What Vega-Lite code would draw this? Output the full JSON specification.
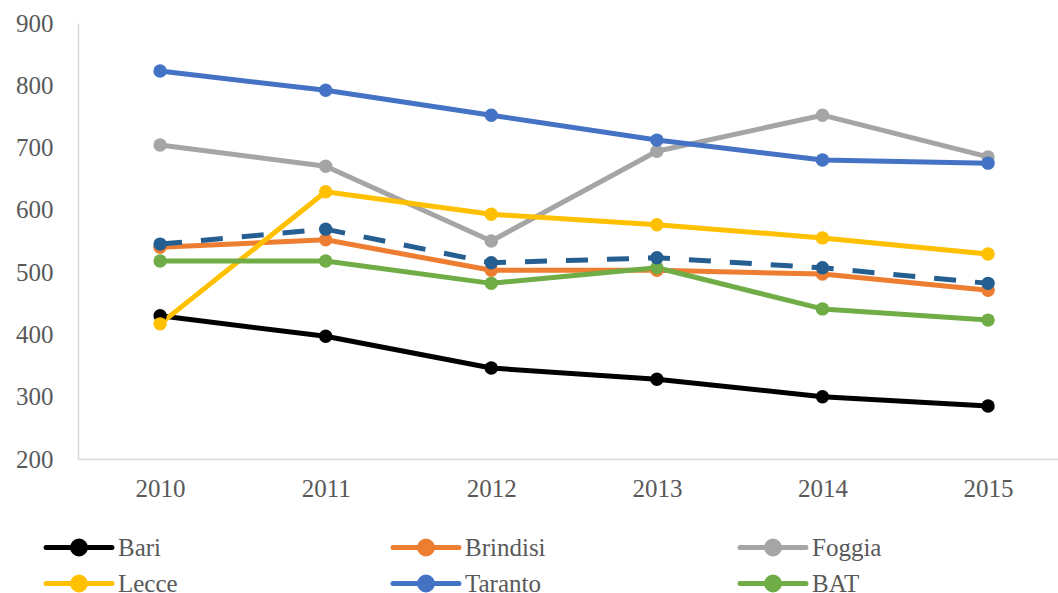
{
  "$schema": "https://vega.github.io/schema/vega-lite/v6.json",
  "width": 980,
  "height": 436,
  "autosize": {"type": "none"},
  "padding": {"left": 78, "top": 23, "right": 0, "bottom": 134},
  "background": "white",
  "config": {
    "view": {"stroke": null},
    "font": "Liberation Serif",
    "legend": {
      "orient": "none",
      "legendX": -18.5,
      "legendY": 505,
      "direction": "horizontal",
      "columns": 3,
      "gridAlign": "all",
      "columnPadding": 183,
      "rowPadding": -2,
      "symbolType": "M-1.94,0H1.94M0.38,0A0.38,0.38,0,1,1,-0.38,0A0.38,0.38,0,1,1,0.38,0Z",
      "symbolSize": 1156,
      "symbolStrokeWidth": 5,
      "labelFont": "Liberation Serif",
      "labelFontSize": 25,
      "labelColor": "#595959",
      "labelOffset": 19.5,
      "padding": 0
    }
  },
  "data": {
    "values": [
      {"year": "2010", "series": "Bari", "value": 430},
      {"year": "2011", "series": "Bari", "value": 397},
      {"year": "2012", "series": "Bari", "value": 346},
      {"year": "2013", "series": "Bari", "value": 328},
      {"year": "2014", "series": "Bari", "value": 300},
      {"year": "2015", "series": "Bari", "value": 285},
      {"year": "2010", "series": "Brindisi", "value": 540},
      {"year": "2011", "series": "Brindisi", "value": 552},
      {"year": "2012", "series": "Brindisi", "value": 503},
      {"year": "2013", "series": "Brindisi", "value": 503},
      {"year": "2014", "series": "Brindisi", "value": 497},
      {"year": "2015", "series": "Brindisi", "value": 471},
      {"year": "2010", "series": "Foggia", "value": 704},
      {"year": "2011", "series": "Foggia", "value": 670},
      {"year": "2012", "series": "Foggia", "value": 550},
      {"year": "2013", "series": "Foggia", "value": 694},
      {"year": "2014", "series": "Foggia", "value": 752},
      {"year": "2015", "series": "Foggia", "value": 685},
      {"year": "2010", "series": "Lecce", "value": 417},
      {"year": "2011", "series": "Lecce", "value": 629},
      {"year": "2012", "series": "Lecce", "value": 593},
      {"year": "2013", "series": "Lecce", "value": 576},
      {"year": "2014", "series": "Lecce", "value": 555},
      {"year": "2015", "series": "Lecce", "value": 529},
      {"year": "2010", "series": "Taranto", "value": 823},
      {"year": "2011", "series": "Taranto", "value": 792},
      {"year": "2012", "series": "Taranto", "value": 752},
      {"year": "2013", "series": "Taranto", "value": 712},
      {"year": "2014", "series": "Taranto", "value": 680},
      {"year": "2015", "series": "Taranto", "value": 675},
      {"year": "2010", "series": "BAT", "value": 518},
      {"year": "2011", "series": "BAT", "value": 518},
      {"year": "2012", "series": "BAT", "value": 482},
      {"year": "2013", "series": "BAT", "value": 507},
      {"year": "2014", "series": "BAT", "value": 441},
      {"year": "2015", "series": "BAT", "value": 423},
      {"year": "2010", "series": "Puglia", "value": 545},
      {"year": "2011", "series": "Puglia", "value": 569},
      {"year": "2012", "series": "Puglia", "value": 515},
      {"year": "2013", "series": "Puglia", "value": 523},
      {"year": "2014", "series": "Puglia", "value": 507},
      {"year": "2015", "series": "Puglia", "value": 482}
    ]
  },
  "encoding": {
    "x": {
      "field": "year",
      "type": "ordinal",
      "scale": {"type": "point", "padding": 0.459, "align": 0.54},
      "axis": {
        "title": null,
        "labelAngle": 0,
        "ticks": false,
        "grid": false,
        "domainColor": "#D9D9D9",
        "domainWidth": 1.5,
        "labelFont": "Liberation Serif",
        "labelFontSize": 25,
        "labelColor": "#595959",
        "labelPadding": 17
      }
    },
    "y": {
      "field": "value",
      "type": "quantitative",
      "scale": {"domain": [200, 900], "nice": false, "zero": false},
      "axis": {
        "title": null,
        "values": [200, 300, 400, 500, 600, 700, 800, 900],
        "ticks": false,
        "grid": false,
        "domainColor": "#D9D9D9",
        "domainWidth": 1.5,
        "labelFont": "Liberation Serif",
        "labelFontSize": 25,
        "labelColor": "#595959",
        "labelPadding": 25
      }
    }
  },
  "layer": [
    {
      "transform": [{"filter": "datum.series !== 'Puglia'"}],
      "mark": {"type": "line", "strokeWidth": 5, "strokeCap": "round", "strokeJoin": "round"},
      "encoding": {
        "color": {
          "field": "series",
          "type": "nominal",
          "scale": {
            "domain": ["Bari", "Brindisi", "Foggia", "Lecce", "Taranto", "BAT"],
            "range": ["#000000", "#ED7D31", "#A5A5A5", "#FFC000", "#4472C4", "#70AD47"]
          },
          "legend": {
            "title": null,
            "encode": {
              "symbols": {
                "update": {
                  "fill": {"scale": "color", "field": "value"},
                  "stroke": {"scale": "color", "field": "value"},
                  "strokeCap": {"value": "round"}
                }
              }
            }
          }
        }
      }
    },
    {
      "transform": [{"filter": "datum.series !== 'Puglia'"}],
      "mark": {"type": "point", "filled": true, "size": 180, "opacity": 1},
      "encoding": {
        "color": {"field": "series", "type": "nominal", "legend": null}
      }
    },
    {
      "transform": [{"filter": "datum.series === 'Puglia'"}],
      "mark": {"type": "line", "strokeWidth": 5, "strokeDash": [22, 19], "color": "#255E91"},
      "encoding": {}
    },
    {
      "transform": [{"filter": "datum.series === 'Puglia'"}],
      "mark": {"type": "point", "filled": true, "size": 180, "opacity": 1, "color": "#255E91"},
      "encoding": {}
    }
  ]
}
